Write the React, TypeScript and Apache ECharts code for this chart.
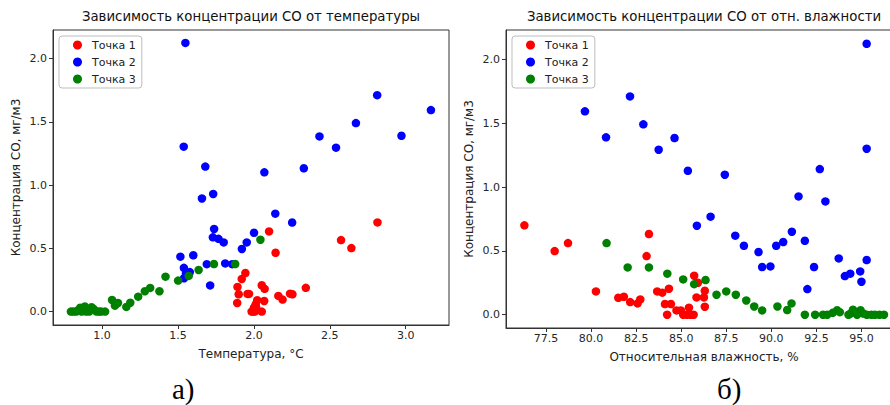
import React, { useEffect, useRef } from 'react';
import * as echarts from 'echarts';

const seriesNames = ['Точка 1', 'Точка 2', 'Точка 3'];
const seriesColors = ['#ff0000', '#0000ff', '#008000'];

const titleTemp = 'Зависимость концентрации CO от температуры';
const titleHum = 'Зависимость концентрации CO от отн. влажности';
const yName = 'Концентрация CO, мг/м3';
const xNameTemp = 'Температура, °C';
const xNameHum = 'Относительная влажность, %';
const captions = ['а)', 'б)'];

const yTicks = [0, 0.5, 1.0, 1.5, 2.0];
const tempTicks = [1.0, 1.5, 2.0, 2.5, 3.0];
const humTicks = [77.5, 80.0, 82.5, 85.0, 87.5, 90.0, 92.5, 95.0];

// Left chart: temperature vs CO
const tempP1 = [
  [2.814, 0.705], [2.574, 0.565], [2.642, 0.502], [2.100, 0.634], [2.143, 0.465],
  [1.944, 0.305], [1.920, 0.258], [1.892, 0.195], [2.052, 0.208], [2.071, 0.180],
  [2.342, 0.188], [1.900, 0.137], [1.958, 0.140], [1.968, 0.140], [2.161, 0.124],
  [2.189, 0.095], [2.238, 0.142], [2.254, 0.137], [1.890, 0.068], [2.068, 0.084],
  [2.022, 0.090], [2.012, 0.058], [2.000, 0.030], [1.985, 0.0], [2.006, 0.0],
  [2.052, 0.0], [1.996, 0.0], [2.015, 0.034],
];
const tempP2 = [
  [1.549, 2.124], [2.812, 1.711], [3.166, 1.593], [2.672, 1.490], [2.432, 1.385],
  [2.972, 1.390], [2.541, 1.296], [1.538, 1.304], [1.680, 1.146], [2.329, 1.133],
  [2.069, 1.101], [1.732, 0.930], [1.658, 0.894], [2.141, 0.774], [2.252, 0.704],
  [1.738, 0.653], [2.001, 0.623], [1.730, 0.587], [1.767, 0.575], [1.801, 0.547],
  [1.953, 0.547], [1.921, 0.495], [1.516, 0.434], [1.601, 0.445], [1.690, 0.375],
  [1.811, 0.381], [1.857, 0.375], [1.539, 0.346], [1.578, 0.312], [1.553, 0.303],
  [1.540, 0.264], [1.712, 0.207],
];
const tempP3 = [
  [0.795, 0.0], [0.810, 0.0], [0.830, 0.0], [0.840, 0.010], [0.856, 0.030],
  [0.865, 0.0], [0.875, 0.020], [0.887, 0.040], [0.894, 0.0], [0.905, 0.010],
  [0.915, 0.0], [0.931, 0.035], [0.946, 0.020], [0.964, 0.0], [0.981, 0.0],
  [0.994, 0.0], [1.020, 0.0], [1.066, 0.092], [1.085, 0.047], [1.105, 0.068],
  [1.160, 0.037], [1.186, 0.070], [1.238, 0.118], [1.282, 0.161], [1.317, 0.187],
  [1.378, 0.161], [1.418, 0.276], [1.501, 0.245], [1.571, 0.282], [1.636, 0.329],
  [1.737, 0.376], [1.877, 0.376], [2.043, 0.568],
];

// Right chart: relative humidity vs CO
const humP1 = [
  [76.30, 0.701], [77.98, 0.499], [78.72, 0.562], [80.27, 0.183], [83.21, 0.633],
  [83.08, 0.460], [81.51, 0.133], [81.82, 0.141], [82.17, 0.099], [82.58, 0.089],
  [82.73, 0.120], [83.67, 0.183], [83.95, 0.173], [84.32, 0.204], [84.10, 0.084],
  [84.43, 0.084], [84.22, 0.0], [84.74, 0.034], [84.98, 0.034], [85.43, 0.055],
  [85.11, 0.0], [85.32, 0.0], [85.52, 0.0], [85.69, 0.0], [85.72, 0.306],
  [85.93, 0.251], [85.85, 0.136], [86.31, 0.188], [86.26, 0.136], [86.31, 0.063],
];
const humP2 = [
  [95.29, 2.125], [82.16, 1.712], [79.66, 1.595], [82.90, 1.493], [80.83, 1.391],
  [84.63, 1.386], [83.75, 1.294], [95.29, 1.302], [85.37, 1.129], [92.69, 1.142],
  [87.42, 1.098], [91.51, 0.928], [93.00, 0.889], [86.63, 0.769], [85.87, 0.698],
  [91.14, 0.651], [88.00, 0.620], [91.86, 0.580], [90.66, 0.570], [90.27, 0.541],
  [88.48, 0.541], [89.29, 0.492], [93.74, 0.442], [95.29, 0.429], [89.49, 0.374],
  [89.95, 0.379], [92.37, 0.374], [94.93, 0.340], [94.38, 0.322], [94.08, 0.303],
  [95.00, 0.259], [92.00, 0.201],
];
const humP3 = [
  [80.86, 0.562], [82.03, 0.371], [83.21, 0.371], [84.23, 0.322], [85.11, 0.277],
  [85.72, 0.240], [86.35, 0.272], [86.96, 0.157], [87.50, 0.183], [88.03, 0.157],
  [88.61, 0.112], [89.05, 0.065], [89.49, 0.034], [90.34, 0.065], [90.88, 0.037],
  [91.12, 0.089], [91.86, 0.0], [92.43, 0.0], [92.87, 0.0], [93.10, 0.0],
  [93.40, 0.015], [93.65, 0.035], [93.80, 0.020], [94.28, 0.0], [94.40, 0.010],
  [94.53, 0.040], [94.76, 0.0], [94.95, 0.035], [95.10, 0.010], [95.30, 0.0],
  [95.55, 0.0], [95.75, 0.0], [96.00, 0.0], [96.25, 0.0],
];

const FONT = 'DejaVu Sans';
const AX = '#333333';

function makeAxis(gridIndex: number, min: number, max: number, ticks: number[], name: string, isX: boolean) {
  return {
    type: 'value',
    gridIndex,
    min,
    max,
    splitLine: { show: false },
    axisLine: { show: true, onZero: false, lineStyle: { color: AX, width: 1 } },
    axisTick: { show: true, length: 4, customValues: ticks, lineStyle: { color: AX } },
    axisLabel: {
      customValues: ticks,
      formatter: (v: number) => v.toFixed(1),
      fontSize: 11,
      fontFamily: FONT,
      color: '#262626',
      margin: isX ? 5 : 6,
    },
    name,
    nameLocation: 'middle',
    nameGap: isX ? 23 : 31,
    nameTextStyle: { fontSize: 12, fontFamily: FONT, color: '#222' },
  };
}

function makeLegend(left: number) {
  return {
    left,
    top: 36,
    orient: 'vertical',
    icon: 'circle',
    itemWidth: 19,
    itemHeight: 9,
    itemGap: 5,
    padding: [3, 6, 3, 14],
    borderColor: '#bdbdbd',
    borderWidth: 1,
    borderRadius: 3,
    backgroundColor: 'rgba(255,255,255,0.8)',
    textStyle: { fontSize: 11, fontFamily: FONT, color: '#222', lineHeight: 12 },
    data: seriesNames,
  };
}

export default function App() {
  const ref = useRef<HTMLDivElement>(null);
  useEffect(() => {
    if (!ref.current) return;
    const chart = echarts.init(ref.current, undefined, { renderer: 'svg' });
    const sets = [
      [tempP1, tempP2, tempP3],
      [humP1, humP2, humP3],
    ];
    const series: any[] = [];
    sets.forEach((group, gi) => {
      group.forEach((data, si) => {
        series.push({
          type: 'scatter',
          name: seriesNames[si],
          xAxisIndex: gi,
          yAxisIndex: gi,
          data,
          symbolSize: 8.5,
          itemStyle: { color: seriesColors[si], opacity: 1 },
          z: 2 + si,
        });
      });
    });
    chart.setOption({
      animation: false,
      backgroundColor: '#ffffff',
      title: [
        { text: titleTemp, left: 251, top: 10, textAlign: 'center', padding: 0,
          textStyle: { fontSize: 13.3, fontWeight: 'normal', fontFamily: FONT, color: '#111' } },
        { text: titleHum, left: 704, top: 10, textAlign: 'center', padding: 0,
          textStyle: { fontSize: 13.3, fontWeight: 'normal', fontFamily: FONT, color: '#111' } },
      ],
      legend: [makeLegend(59), makeLegend(512)],
      grid: [
        { left: 53, top: 30, width: 396, height: 295, show: true, borderColor: AX, borderWidth: 1,
          backgroundColor: '#fff', containLabel: false, outerBoundsMode: 'none' },
        { left: 506, top: 30, width: 396, height: 298, show: true, borderColor: AX, borderWidth: 1,
          backgroundColor: '#fff', containLabel: false, outerBoundsMode: 'none' },
      ],
      xAxis: [
        makeAxis(0, 0.677, 3.285, tempTicks, xNameTemp, true),
        makeAxis(1, 75.28, 97.25, humTicks, xNameHum, true),
      ],
      yAxis: [
        makeAxis(0, -0.106, 2.226, yTicks, yName, false),
        makeAxis(1, -0.104, 2.233, yTicks, yName, false),
      ],
      series,
      graphic: [
        { type: 'text', left: 172, top: 374,
          style: { text: captions[0], font: '29px "Liberation Serif"', fill: '#000' } },
        { type: 'text', left: 717, top: 374,
          style: { text: captions[1], font: '29px "Liberation Serif"', fill: '#000' } },
      ],
    });
    return () => chart.dispose();
  }, []);
  return (
    <div
      ref={ref}
      style={{ position: 'absolute', left: 0, top: 0, width: 890, height: 405, background: '#fff' }}
    />
  );
}
